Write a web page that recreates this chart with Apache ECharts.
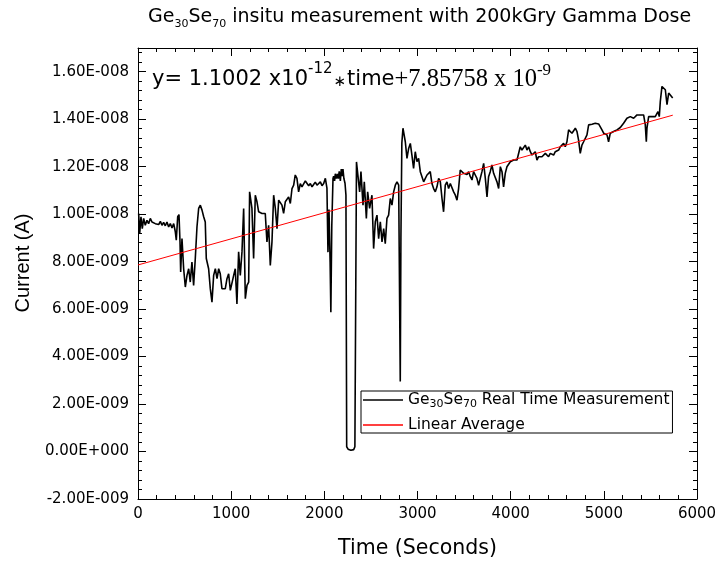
<!DOCTYPE html>
<html><head><meta charset="utf-8">
<script src="https://cdn.jsdelivr.net/npm/echarts@6/dist/echarts.min.js"></script>
<style>html,body{margin:0;padding:0;background:#fff}#c{width:717px;height:565px}</style>
</head><body><div id="c"></div>
<script>
// Time in seconds
const timeS = [7,18,32,46,61,78,96,114,132,150,168,186,204,222,240,257,275,293,311,329,347,365,383,400,411,426,440,451,458,472,490,508,526,544,561,579,597,615,633,651,669,687,705,722,733,758,776,794,812,830,848,866,883,901,919,937,955,973,991,1009,1027,1044,1062,1080,1098,1116,1134,1152,1170,1188,1198,1223,1241,1259,1277,1295,1313,1331,1349,1366,1384,1402,1420,1438,1456,1474,1492,1510,1528,1545,1563,1581,1599,1617,1635,1653,1671,1688,1706,1724,1742,1760,1778,1796,1814,1832,1850,1868,1885,1903,1921,1939,1957,1975,1993,2011,2028,2039,2050,2062,2070,2080,2093,2100,2110,2118,2130,2140,2150,2160,2172,2182,2190,2200,2210,2222,2232,2240,2255,2270,2285,2300,2315,2328,2345,2357,2379,2393,2415,2429,2451,2465,2486,2511,2529,2547,2565,2583,2601,2619,2637,2654,2672,2690,2708,2726,2744,2762,2780,2798,2810,2815,2822,2832,2844,2869,2887,2905,2923,2940,2958,2976,2994,3012,3030,3048,3066,3084,3102,3119,3137,3155,3173,3191,3209,3227,3245,3263,3280,3298,3316,3334,3352,3370,3388,3406,3424,3441,3459,3477,3495,3513,3531,3549,3567,3585,3602,3620,3638,3656,3674,3692,3710,3728,3746,3763,3781,3799,3817,3835,3853,3871,3889,3907,3924,3942,3960,3978,3996,4014,4032,4050,4068,4085,4103,4121,4139,4157,4175,4193,4211,4229,4246,4264,4282,4300,4318,4336,4354,4372,4390,4407,4425,4443,4461,4479,4497,4515,4533,4551,4568,4586,4604,4622,4640,4658,4676,4694,4712,4729,4747,4765,4783,4801,4819,4837,4855,4873,4890,4908,4926,4944,4962,4980,4998,5016,5034,5051,5069,5087,5105,5123,5141,5159,5177,5195,5212,5230,5248,5266,5284,5302,5320,5338,5356,5373,5391,5409,5427,5445,5456,5463,5481,5499,5517,5534,5552,5570,5581,5595,5606,5624,5642,5660,5678,5696,5713,5739];
// Current in units of 1E-009 A
const currentNA = [10.03,9.18,9.89,9.39,9.82,9.53,9.74,9.60,9.82,9.67,9.74,9.60,9.67,9.56,9.70,9.53,9.65,9.51,9.67,9.46,9.60,9.42,9.60,9.27,8.90,9.89,9.98,8.83,7.56,8.97,7.70,6.93,7.42,7.70,7.14,7.98,7.00,8.13,9.46,10.24,10.38,10.17,9.89,9.67,8.13,7.70,6.86,6.29,7.42,7.70,7.28,7.70,7.49,6.86,6.79,6.86,7.28,7.49,6.79,6.86,7.42,7.70,6.22,8.41,7.42,8.41,10.24,6.44,7.00,7.14,10.94,10.24,8.13,10.80,10.52,10.10,10.10,10.03,10.10,10.03,8.83,9.53,7.84,8.83,10.80,10.24,9.39,10.59,10.52,10.38,10.03,10.52,10.59,10.73,10.45,11.08,11.22,11.65,11.51,10.94,11.29,11.15,11.22,11.40,11.36,11.20,11.29,11.15,11.25,11.35,11.22,11.30,11.36,11.20,11.29,11.51,11.10,8.40,10.20,8.00,5.87,9.50,11.50,11.60,11.40,11.70,11.50,11.70,11.50,11.80,11.40,11.90,11.60,11.90,11.50,11.30,10.80,0.20,0.10,0.15,0.05,0.12,0.08,0.20,12.20,12.21,10.94,11.79,10.38,11.36,9.82,10.94,10.24,10.80,8.55,9.68,9.96,8.97,9.68,8.83,9.39,8.76,9.82,9.96,10.66,10.38,10.94,11.22,11.36,11.22,11.20,2.95,9.00,13.00,13.62,13.05,12.35,12.77,12.98,12.49,11.93,12.63,12.21,12.35,11.79,11.58,11.36,11.51,11.65,11.72,11.79,11.29,11.08,10.94,11.15,11.51,11.36,10.66,10.10,11.22,11.36,11.08,11.29,11.22,10.94,10.80,10.59,11.08,11.86,11.79,11.72,11.65,11.67,11.79,11.58,11.44,11.79,11.65,11.51,11.22,11.51,11.79,12.14,11.51,10.73,11.58,11.79,12.07,11.72,11.79,11.36,11.08,12.00,11.79,11.15,11.72,12.00,12.07,12.21,12.21,12.28,12.21,12.28,12.35,12.84,12.70,12.77,12.91,12.70,12.84,12.63,12.49,12.56,12.63,12.28,12.42,12.49,12.42,12.35,12.56,12.49,12.42,12.56,12.49,12.49,12.63,12.56,12.70,12.84,12.91,12.98,12.84,13.05,13.55,13.62,13.41,13.48,13.62,13.48,13.12,12.56,12.91,13.05,12.98,13.34,13.76,13.76,13.79,13.76,13.83,13.76,13.80,13.76,13.55,13.41,13.34,13.34,13.05,13.41,13.48,13.48,13.55,13.55,13.57,13.65,13.62,13.83,13.90,14.04,14.04,14.11,14.04,14.04,14.11,14.18,14.11,14.18,14.21,14.18,13.76,13.05,13.62,14.11,14.18,14.11,14.15,14.11,14.04,14.32,14.11,14.74,15.38,15.31,15.24,14.61,15.10,15.17,14.89];
// Linear average end points
const fitTimeS = [0, 5740];
const fitCurrentNA = [7.86, 14.17];
// Axis ticks
const yTickValues = [-2, 0, 2, 4, 6, 8, 10, 12, 14, 16];
const yTickLabels = ['-2.00E-009','0.00E+000','2.00E-009','4.00E-009','6.00E-009','8.00E-009','1.00E-008','1.20E-008','1.40E-008','1.60E-008'];
const xTickLabels = ['0','1000','2000','3000','4000','5000','6000'];
const seriesNames = ['Ge30Se70 Real Time Measurement', 'Linear Average'];

const SANS = 'DejaVu Sans';
const chart = echarts.init(document.getElementById('c'), null, {renderer: 'canvas'});
const axisCommon = {
  axisLine: {show: true, onZero: false, lineStyle: {color: '#000', width: 1}},
  axisTick: {show: true, inside: true, length: 8, lineStyle: {color: '#000', width: 1}},
  minorTick: {show: true, splitNumber: 5, length: 4, lineStyle: {color: '#000', width: 1}},
  splitLine: {show: false},
  minorSplitLine: {show: false}
};
const yFmt = v => { const i = yTickValues.indexOf(Math.round(v * 1000) / 1000); return i >= 0 ? yTickLabels[i] : ''; };
const xFmt = v => { const i = Math.round(v / 1000); return (Math.abs(v - i * 1000) < 1e-6 && xTickLabels[i] !== undefined) ? xTickLabels[i] : ''; };

const option = {
  animation: false,
  backgroundColor: '#fff',
  title: {
    text: '{n|Ge}{s|30}{n|Se}{s|70}{n| insitu measurement with 200kGry Gamma Dose}',
    left: 148, top: 4, padding: 0,
    textStyle: {
      fontFamily: SANS, fontWeight: 'normal', fontSize: 19, color: '#000',
      rich: {
        n: {fontFamily: SANS, fontSize: 19, lineHeight: 26, verticalAlign: 'middle', color: '#000'},
        s: {fontFamily: SANS, fontSize: 11, lineHeight: 9, verticalAlign: 'bottom', color: '#000'}
      }
    }
  },
  grid: {left: 138, right: 20, top: 48, bottom: 66, containLabel: false, outerBoundsMode: 'none', show: false},
  legend: {
    orient: 'vertical', left: 361, top: 391,
    itemWidth: 40, itemHeight: 1.5, itemGap: 7,
    padding: [1, 3, 0, 2],
    borderColor: '#000', borderWidth: 1,
    icon: 'rect',
    data: [
      {name: seriesNames[0], icon: 'rect', itemStyle: {color: '#000'}},
      {name: seriesNames[1], icon: 'rect', itemStyle: {color: '#ff0000'}}
    ],
    formatter: name => name === seriesNames[0]
      ? '{n|Ge}{s|30}{n|Se}{s|70}{n| Real Time Measurement}'
      : '{n|' + name + '}',
    textStyle: {
      fontFamily: SANS, fontSize: 15.5, color: '#000',
      rich: {
        n: {fontFamily: SANS, fontSize: 15.5, lineHeight: 20, verticalAlign: 'middle', color: '#000'},
        s: {fontFamily: SANS, fontSize: 11, lineHeight: 4, verticalAlign: 'bottom', color: '#000'}
      }
    }
  },
  xAxis: [
    Object.assign({
      type: 'value', position: 'bottom', min: 0, max: 6000, interval: 1000,
      axisLabel: {color: '#000', fontFamily: SANS, fontSize: 15, margin: 8, formatter: xFmt},
      name: 'Time (Seconds)', nameLocation: 'middle', nameGap: 39,
      nameTextStyle: {fontFamily: SANS, fontSize: 20.5, color: '#000'}
    }, axisCommon),
    Object.assign({
      type: 'value', position: 'top', min: 0, max: 6000, interval: 1000,
      axisLabel: {show: false}
    }, axisCommon)
  ],
  yAxis: [
    Object.assign({
      type: 'value', position: 'left', min: -2, max: 17, interval: 2,
      axisLabel: {color: '#000', fontFamily: SANS, fontSize: 15, margin: 9, formatter: yFmt, showMaxLabel: false},
      name: 'Current (A)', nameLocation: 'middle', nameGap: 105,
      nameTextStyle: {fontFamily: 'Liberation Sans', fontSize: 20, color: '#000', padding: [0, 0, 0, 21]}
    }, axisCommon),
    Object.assign({
      type: 'value', position: 'right', min: -2, max: 17, interval: 2,
      axisLabel: {show: false}
    }, axisCommon)
  ],
  graphic: [{
    type: 'text', left: 152, top: 62, z: 10,
    style: {
      text: '{a|y= 1.1002 x10}{b|-12}{e|\u2217}{a|time}{c|+7.85758 x 10}{d|-9}',
      fill: '#000',
      rich: {
        a: {fontFamily: SANS, fontSize: 21, lineHeight: 36, verticalAlign: 'middle', fill: '#000'},
        e: {fontFamily: SANS, fontSize: 15, lineHeight: 36, verticalAlign: 'middle', fill: '#000', padding: [4, 1, 0, 1]},
        b: {fontFamily: SANS, fontSize: 15, lineHeight: 18, verticalAlign: 'top', fill: '#000'},
        c: {fontFamily: 'Liberation Serif', fontSize: 24.5, lineHeight: 36, verticalAlign: 'middle', fill: '#000'},
        d: {fontFamily: 'Liberation Serif', fontSize: 17, lineHeight: 26, verticalAlign: 'top', fill: '#000'}
      }
    }
  }],
  series: [
    {
      type: 'line', name: seriesNames[0], xAxisIndex: 0, yAxisIndex: 0,
      data: timeS.map((t, i) => [t, currentNA[i]]),
      symbol: 'none', showSymbol: false,
      lineStyle: {color: '#000', width: 1.6}, itemStyle: {color: '#000'}, z: 2
    },
    {
      type: 'line', name: seriesNames[1], xAxisIndex: 0, yAxisIndex: 0,
      data: fitTimeS.map((t, i) => [t, fitCurrentNA[i]]),
      symbol: 'none', showSymbol: false,
      lineStyle: {color: '#ff0000', width: 1}, itemStyle: {color: '#ff0000'}, z: 3
    }
  ]
};
chart.setOption(option);
</script>
</body></html>
